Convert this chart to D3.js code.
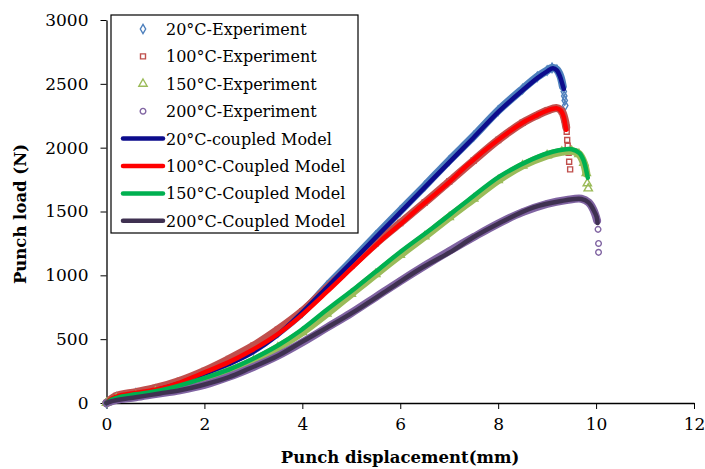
<!DOCTYPE html>
<html>
<head>
<meta charset="utf-8">
<script src="https://cdn.jsdelivr.net/npm/d3@7"></script>
<style>
  body { margin: 0; background: #fff; }
  text { font-family: "DejaVu Serif", serif; fill: #000; }
  .tick line, .domain { stroke: #000; }
</style>
</head>
<body>
<div id="chart"></div>
<script>
// tick values
const xTicks = [0, 2, 4, 6, 8, 10, 12];
const yTicks = [0, 500, 1000, 1500, 2000, 2500, 3000];

// experiment series, dense part  [displacement mm, load N]
const exp20 = [[0,0],[0.2,45],[0.6,75],[1.0,105],[1.5,160],[2.0,232],[2.5,320],[3.0,415],[3.5,550],[4.0,710],[4.5,915],[5.0,1110],[5.5,1310],[6.0,1505],[6.5,1700],[7.0,1900],[7.5,2090],[8.0,2290],[8.5,2460],[8.8,2555],[9.0,2605],[9.1,2625],[9.2,2610],[9.27,2560],[9.32,2480]];
const exp100 = [[0,0],[0.2,55],[0.6,85],[1.0,118],[1.5,175],[2.0,252],[2.5,345],[3.0,448],[3.5,575],[4.0,720],[4.5,900],[5.0,1075],[5.5,1250],[6.0,1410],[6.5,1570],[7.0,1735],[7.5,1900],[8.0,2060],[8.5,2195],[8.8,2255],[9.0,2290],[9.2,2310],[9.3,2285],[9.36,2220],[9.39,2160]];
const exp150 = [[0,0],[0.2,35],[0.6,60],[1.0,88],[1.5,128],[2.0,180],[2.5,250],[3.0,330],[3.5,435],[4.0,555],[4.5,700],[5.0,855],[5.5,1010],[6.0,1160],[6.5,1305],[7.0,1455],[7.5,1600],[8.0,1745],[8.5,1860],[9.0,1940],[9.3,1968],[9.5,1975],[9.65,1950],[9.75,1880],[9.8,1800]];
const exp200 = [[0,0],[0.2,25],[0.6,45],[1.0,70],[1.5,100],[2.0,142],[2.5,205],[3.0,282],[3.5,370],[4.0,475],[4.5,590],[5.0,705],[5.5,830],[6.0,955],[6.5,1075],[7.0,1190],[7.5,1300],[8.0,1405],[8.5,1495],[9.0,1560],[9.4,1590],[9.7,1600],[9.85,1570],[9.95,1510],[10.02,1430]];

// experiment series, sparse points after failure
const exp20Tail = [[9.34,2440],[9.35,2405],[9.36,2370],[9.37,2330]];
const exp100Tail = [[9.4,2125],[9.41,2060],[9.42,2015],[9.44,1960],[9.45,1890],[9.47,1830]];
const exp150Tail = [[9.82,1720],[9.84,1680]];
const exp200Tail = [[10.04,1360],[10.05,1250],[10.05,1180]];

// coupled model curves
const model20 = [[0,0],[0.1,28],[0.3,52],[0.6,72],[1.0,100],[1.5,155],[1.9,215],[2.5,305],[2.93,385],[3.5,535],[3.95,692],[4.5,905],[5.11,1144],[5.6,1336],[6.0,1493],[6.4,1650],[7.0,1885],[7.5,2080],[8.03,2290],[8.5,2450],[8.8,2545],[9.0,2598],[9.12,2622],[9.2,2605],[9.26,2560],[9.31,2500],[9.34,2460]];
const model100 = [[0,0],[0.1,33],[0.28,60],[0.6,80],[1.09,112],[1.5,160],[1.91,225],[2.5,320],[2.93,405],[3.5,540],[3.95,676],[4.5,870],[5.11,1094],[5.6,1270],[6.0,1400],[6.4,1535],[7.0,1730],[7.36,1860],[8.03,2070],[8.5,2195],[8.8,2255],[9.0,2290],[9.19,2308],[9.28,2290],[9.34,2240],[9.37,2180],[9.39,2140]];
const model150 = [[0,0],[0.1,25],[0.28,48],[0.6,68],[1.09,98],[1.5,138],[1.91,185],[2.5,262],[2.93,335],[3.5,450],[3.95,564],[4.5,730],[5.11,909],[5.6,1060],[6.0,1183],[6.66,1371],[7.36,1580],[8.03,1775],[8.71,1912],[9.11,1968],[9.5,1988],[9.66,1958],[9.75,1895],[9.8,1820],[9.83,1765]];
const model200 = [[0,0],[0.1,14],[0.28,28],[0.6,45],[1.09,75],[1.5,100],[1.91,135],[2.5,202],[2.93,272],[3.5,370],[3.95,470],[4.5,590],[5.11,728],[5.8,900],[6.4,1050],[7.01,1180],[7.5,1300],[8.03,1410],[8.71,1530],[9.26,1580],[9.7,1598],[9.85,1570],[9.95,1510],[10.01,1460],[10.03,1410]];

const expLabels = ["20°C-Experiment", "100°C-Experiment", "150°C-Experiment", "200°C-Experiment"];
const modelLabels = ["20°C-coupled Model", "100°C-Coupled Model", "150°C-Coupled Model", "200°C-Coupled Model"];

const expColors = ["#4f81bd", "#c0504d", "#9bbb59", "#8064a2"];
const modelColors = ["#0c0c8c", "#ff0000", "#00b050", "#3f3151"];
const symbols = [d3.symbolDiamond, d3.symbolSquare, d3.symbolTriangle, d3.symbolCircle];

const expSeries = [exp20, exp100, exp150, exp200];
const expTails = [exp20Tail, exp100Tail, exp150Tail, exp200Tail];
const modelSeries = [model20, model100, model150, model200];

const W = 705, H = 469;
const svg = d3.select("#chart").append("svg")
    .attr("width", W)
    .attr("height", H);

const x = d3.scaleLinear().domain([0, 12]).range([106.5, 694]);
const y = d3.scaleLinear().domain([0, 3000]).range([403, 20]);

const line = d3.line()
    .x(d => x(d[0]))
    .y(d => y(d[1]))
    .curve(d3.curveCatmullRom.alpha(0.5));

// axes
svg.append("g")
    .attr("transform", `translate(0,${y(0)})`)
    .call(d3.axisBottom(x).tickValues(xTicks).tickFormat(d3.format("d"))
        .tickSize(6).tickPadding(9).tickSizeOuter(0))
    .call(g => g.selectAll("text").style("font-size", "17px").style("font-family", "DejaVu Serif"));

svg.append("g")
    .attr("transform", `translate(${x(0)},0)`)
    .call(d3.axisLeft(y).tickValues(yTicks).tickFormat(d3.format("d"))
        .tickSize(6).tickPadding(12).tickSizeOuter(0))
    .call(g => g.selectAll("text").style("font-size", "17px").style("font-family", "DejaVu Serif"));

svg.selectAll(".domain").attr("stroke-width", 1.3);

// experiment bands and markers
expSeries.forEach((data, i) => {
    svg.append("path")
        .datum(data)
        .attr("d", line)
        .attr("fill", "none")
        .attr("stroke", expColors[i])
        .attr("stroke-width", 8)
        .attr("stroke-linejoin", "round")
        .attr("stroke-linecap", "round");

    svg.append("g").selectAll("path")
        .data(data.concat(expTails[i]))
        .join("path")
        .attr("transform", d => `translate(${x(d[0])},${y(d[1])})`)
        .attr("d", d3.symbol().type(symbols[i]).size(i === 2 ? 30 : 25))
        .attr("fill", "none")
        .attr("stroke", expColors[i])
        .attr("stroke-width", 1.4);
});

// model curves
modelSeries.forEach((data, i) => {
    svg.append("path")
        .datum(data)
        .attr("d", line)
        .attr("fill", "none")
        .attr("stroke", modelColors[i])
        .attr("stroke-width", 4.5)
        .attr("stroke-linejoin", "round")
        .attr("stroke-linecap", "round");
});

// axis titles
svg.append("text")
    .attr("x", 400)
    .attr("y", 463)
    .attr("text-anchor", "middle")
    .style("font-size", "16.5px")
    .style("font-weight", "bold")
    .text("Punch displacement(mm)");

svg.append("text")
    .attr("transform", "translate(26,214) rotate(-90)")
    .attr("text-anchor", "middle")
    .style("font-size", "16.5px")
    .style("font-weight", "bold")
    .text("Punch load (N)");

// legend
const legend = svg.append("g");
legend.append("rect")
    .attr("x", 111).attr("y", 15)
    .attr("width", 247).attr("height", 218)
    .attr("fill", "#fff")
    .attr("stroke", "#000")
    .attr("stroke-width", 1.2);

const rowY = i => 29 + i * 27.4;

expLabels.forEach((label, i) => {
    legend.append("path")
        .attr("transform", `translate(143,${rowY(i)})`)
        .attr("d", d3.symbol().type(symbols[i]).size(i === 2 ? 30 : 25))
        .attr("fill", "none")
        .attr("stroke", expColors[i])
        .attr("stroke-width", 1.4);
    legend.append("text")
        .attr("x", 166).attr("y", rowY(i) + 6)
        .style("font-size", "16px")
        .text(label);
});

modelLabels.forEach((label, j) => {
    const i = j + 4;
    legend.append("line")
        .attr("x1", 123).attr("x2", 163)
        .attr("y1", rowY(i)).attr("y2", rowY(i))
        .attr("stroke", modelColors[j])
        .attr("stroke-width", 4.5)
        .attr("stroke-linecap", "round");
    legend.append("text")
        .attr("x", 166).attr("y", rowY(i) + 6)
        .style("font-size", "16px")
        .text(label);
});
</script>
</body>
</html>
